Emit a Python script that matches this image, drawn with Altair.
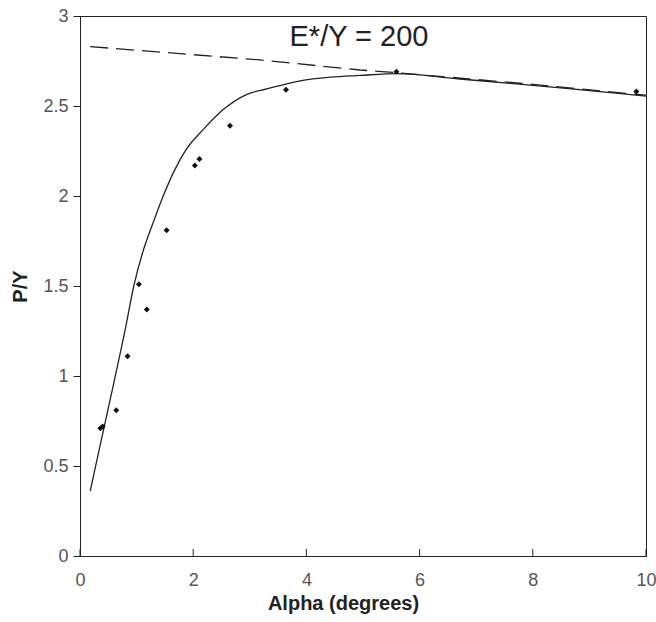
import altair as alt
import pandas as pd

# measured points (diamonds)
pts_x = [0.36, 0.40, 0.64, 0.84, 1.04, 1.18, 1.53, 2.03, 2.11, 2.65, 3.64, 5.59, 9.83]
pts_y = [0.71, 0.72, 0.81, 1.11, 1.51, 1.37, 1.81, 2.17, 2.205, 2.39, 2.59, 2.69, 2.58]

# solid model curve
curve_x = [0.18, 0.37, 0.61, 0.80, 0.95, 1.12, 1.29, 1.47, 1.65, 1.88, 2.18, 2.53, 2.95,
           3.30, 3.89, 4.42, 4.95, 5.60, 6.71, 8.00, 9.00, 10.0]
curve_y = [0.36, 0.635, 0.98, 1.26, 1.50, 1.70, 1.85, 2.00, 2.13, 2.26, 2.37, 2.48, 2.565,
           2.595, 2.64, 2.66, 2.67, 2.68, 2.65, 2.615, 2.585, 2.555]

# dashed asymptote
dash_x = [0.18, 3.18, 4.95, 5.60, 8.00, 10.0]
dash_y = [2.83, 2.756, 2.70, 2.685, 2.62, 2.56]

x_ticks = [0, 2, 4, 6, 8, 10]
y_ticks = [0, 0.5, 1, 1.5, 2, 2.5, 3]
annotation = "E*/Y = 200"

pts = pd.DataFrame({"x": pts_x, "y": pts_y})
curve = pd.DataFrame({"x": curve_x, "y": curve_y})
dash = pd.DataFrame({"x": dash_x, "y": dash_y})
ticks = pd.DataFrame({"x": x_ticks})

xscale = alt.Scale(domain=[0, 10], nice=False, zero=False)
yscale = alt.Scale(domain=[0, 3], nice=False, zero=False)

xaxis = alt.Axis(values=x_ticks, format="~g", title="Alpha (degrees)", grid=False, ticks=False,
                 labelFlush=False, labelOverlap=False,
                 labelFontSize=18, labelColor="#555", labelPadding=15, labelFont="Liberation Sans",
                 titleFontSize=20, titleFont="Liberation Sans", titleFontWeight="bold", titleColor="#222",
                 titleX=263, titleY=47, titleBaseline="middle", titleAlign="center",
                 domainColor="#222")
yaxis = alt.Axis(values=y_ticks, format="~g", title="P/Y", grid=False, tickSize=7, tickColor="#222",
                 labelFlush=False, labelOverlap=False,
                 labelFontSize=18, labelColor="#555", labelPadding=5, labelFont="Liberation Sans",
                 titleFontSize=20, titleFont="Liberation Sans", titleFontWeight="bold", titleColor="#222",
                 titleX=-60, titleY=270, titleAngle=-90, titleBaseline="middle", titleAlign="center",
                 domainColor="#222")

dashed = alt.Chart(dash).mark_line(color="#222", strokeWidth=1.3, strokeDash=[18, 8]).encode(
    x=alt.X("x:Q", scale=xscale, axis=xaxis),
    y=alt.Y("y:Q", scale=yscale, axis=yaxis),
)
solid = alt.Chart(curve).mark_line(color="#222", strokeWidth=1.3, interpolate="monotone").encode(
    x=alt.X("x:Q", scale=xscale), y=alt.Y("y:Q", scale=yscale)
)
points = alt.Chart(pts).mark_point(shape="diamond", filled=True, color="#111", size=36, opacity=1).encode(
    x=alt.X("x:Q", scale=xscale), y=alt.Y("y:Q", scale=yscale)
)
xt = alt.Chart(ticks).mark_rule(color="#222", strokeWidth=1).encode(
    x=alt.X("x:Q", scale=xscale), y=alt.value(540), y2=alt.value(533)
)
label = alt.Chart(pd.DataFrame({"t": [annotation]})).mark_text(
    fontSize=29, font="Liberation Sans", color="#222", align="center", baseline="middle"
).encode(text="t:N", x=alt.value(279), y=alt.value(21))

chart = alt.layer(dashed, solid, points, xt, label).properties(
    width=566, height=540,
    autosize=alt.AutoSizeParams(type="none"),
    padding={"left": 80, "top": 16, "right": 10, "bottom": 66},
    background="white",
).configure_view(stroke="#222", strokeWidth=1)

chart.save("out.html", embed_options={"renderer": "svg", "actions": False})
